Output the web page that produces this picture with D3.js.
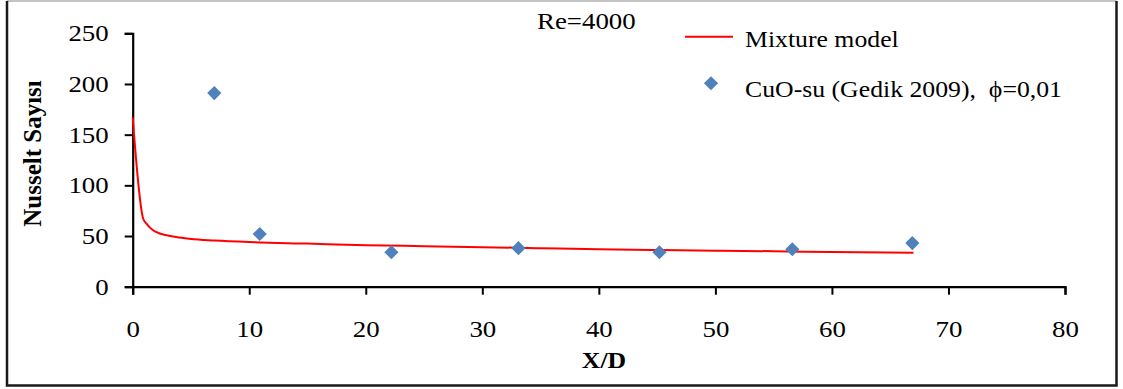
<!DOCTYPE html>
<html>
<head>
<meta charset="utf-8">
<script src="https://cdn.jsdelivr.net/npm/d3@7"></script>
<style>
  html, body { margin: 0; padding: 0; background: #fff; }
  svg text { font-family: "Liberation Serif", "Times New Roman", serif; fill: #000; }
  .wide { transform-box: fill-box; transform: scaleX(1.12); }
  .wide-mid { transform-origin: center; }
  .wide-end { transform-origin: right center; }
  .wide-start { transform-origin: left center; }
</style>
</head>
<body>
<svg id="chart" width="1123" height="389"></svg>
<script>
// Mixture model prediction: Nusselt number along the tube (X/D)
const modelX  = [0, 0.9, 1.2, 1.5, 2, 3, 4, 5, 7, 10, 15, 20, 25, 30, 35, 40, 45, 50, 55, 60, 67];
const modelNu = [167, 67, 62, 58, 54, 50.5, 48.5, 47, 45.5, 44, 42.5, 41, 40, 39, 38, 37, 36.2, 35.5, 35, 34.2, 33.5];

// Experimental data, CuO-water (Gedik 2009), phi = 0.01
const expX  = [7, 10.9, 22.2, 33.1, 45.2, 56.6, 66.9];
const expNu = [191, 52, 34, 38, 34, 37, 43];

const xTicks = [0, 10, 20, 30, 40, 50, 60, 70, 80];
const yTicks = [0, 50, 100, 150, 200, 250];

const svg = d3.select("#chart");

const x = d3.scaleLinear().domain([0, 80]).range([132.7, 1065]);
const y = d3.scaleLinear().domain([0, 250]).range([286.7, 33.3]);

// outer frame
svg.append("line").attr("x1", 7).attr("x2", 1116.5).attr("y1", 1).attr("y2", 1)
  .attr("stroke", "#b0b0b0").attr("stroke-width", 1.5);
svg.append("path")
  .attr("d", `M7,1 L7,385.5 L1116.5,385.5 L1116.5,1`)
  .attr("fill", "none").attr("stroke", "#1a1a1a").attr("stroke-width", 2.5);

// axes
const xAxis = svg.append("g").attr("transform", `translate(0,${y(0)})`)
  .call(d3.axisBottom(x).tickValues(xTicks).tickSize(8).tickPadding(36).tickFormat(d3.format("d")));
const yAxis = svg.append("g").attr("transform", `translate(${x(0)},0)`)
  .call(d3.axisLeft(y).tickValues(yTicks).tickSize(8).tickPadding(16).tickFormat(d3.format("d")));

[xAxis, yAxis].forEach(g => {
  g.select(".domain").attr("stroke", "#000").attr("stroke-width", 2.2);
  g.selectAll(".tick line").attr("stroke", "#000").attr("stroke-width", 2);
  g.selectAll(".tick text").attr("font-size", 24).attr("fill", "#000")
    .style("font-family", "'Liberation Serif', 'Times New Roman', serif");
});
xAxis.selectAll(".tick text").attr("dy", 0).attr("y", 50.5).attr("class", "wide wide-mid");
yAxis.selectAll(".tick text").attr("dy", "0.31em").attr("class", "wide wide-end");

// model curve
const line = d3.line().x((d, i) => x(modelX[i])).y(d => y(d)).curve(d3.curveMonotoneX);
svg.append("path")
  .datum(modelNu)
  .attr("d", line)
  .attr("fill", "none")
  .attr("stroke", "#ff0000")
  .attr("stroke-width", 2);

// experimental points
const diamond = d3.symbol().type(d3.symbolSquare).size(100);
svg.append("g").selectAll("path")
  .data(expNu)
  .join("path")
  .attr("d", diamond)
  .attr("transform", (d, i) => `translate(${x(expX[i])},${y(d)}) rotate(45)`)
  .attr("fill", "#4f81bd");

// axis titles
svg.append("text")
  .attr("x", 604).attr("y", 368.5)
  .attr("text-anchor", "middle")
  .attr("font-size", 23).attr("font-weight", "bold")
  .attr("class", "wide wide-mid")
  .text("X/D");

svg.append("text")
  .attr("transform", "translate(41,153.5) rotate(-90)")
  .attr("text-anchor", "middle")
  .attr("font-size", 25).attr("font-weight", "bold")
  .text("Nusselt Sayısı");

// case annotation
svg.append("text")
  .attr("x", 537).attr("y", 29.3)
  .attr("font-size", 24)
  .attr("class", "wide wide-start")
  .text("Re=4000");

// legend
const legend = svg.append("g");
legend.append("line")
  .attr("x1", 685).attr("x2", 733).attr("y1", 36.7).attr("y2", 36.7)
  .attr("stroke", "#ff0000").attr("stroke-width", 2);
legend.append("text")
  .attr("x", 745).attr("y", 46.7)
  .attr("font-size", 23)
  .attr("class", "wide wide-start")
  .text("Mixture model");
legend.append("path")
  .attr("d", diamond)
  .attr("transform", "translate(711,83.3) rotate(45)")
  .attr("fill", "#4f81bd");
legend.append("text")
  .attr("x", 745).attr("y", 96.7)
  .attr("font-size", 23)
  .attr("class", "wide wide-start")
  .attr("xml:space", "preserve")
  .text("CuO-su (Gedik 2009),\u00a0 \u03d5=0,01");
</script>
</body>
</html>
